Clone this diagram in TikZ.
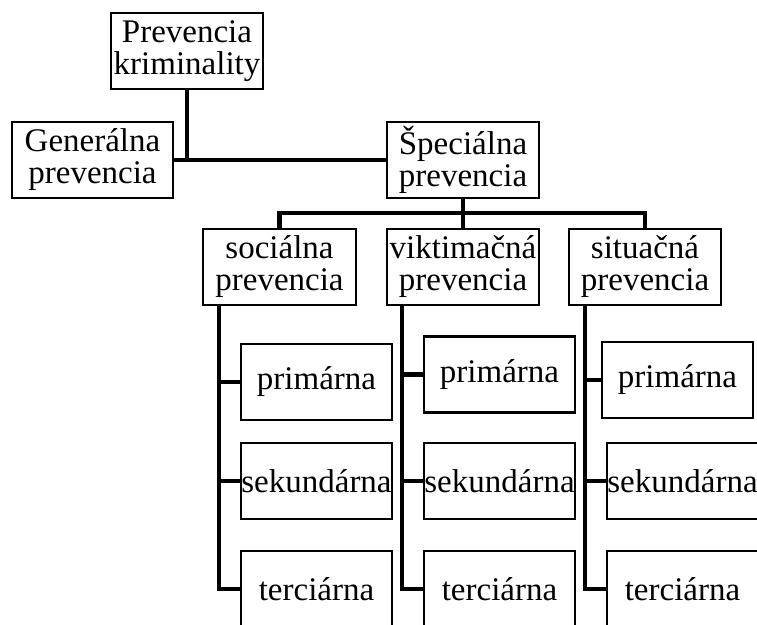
\documentclass[tikz,border=0pt]{standalone}
\usepackage{fontspec}
\setmainfont{Liberation Serif}
\tikzset{
  box/.style={draw,line width=2.4pt,inner sep=0pt,minimum width=152pt,
    minimum height=76pt,align=center,font=\fontsize{33}{32}\selectfont},
  way/.style={line width=4.5pt}
}

\begin{document}
\begin{tikzpicture}[x=1pt,y=-1pt]
    \useasboundingbox (0,0) rectangle (757,624);
    % Boxes
    \node[box] (krim) at (187,51) {Prevencia\\kriminality};
    \node[box,minimum width=161pt] (gen) at (92.5,160) {Generálna\\prevencia};
    \node[box] (spec) at (463,160) {Špeciálna\\prevencia};
    \node[box,minimum width=153pt] (soc) at (279.5,267) {sociálna\\prevencia};
    \node[box] (vikt) at (463,267) {viktimačná\\prevencia};
    \node[box] (sit) at (645,267) {situačná\\prevencia};
    \node[box,minimum width=151pt] (prim1) at (316.5,382) {primárna};
    \node[box,minimum width=151pt] (sek1) at (316.5,481) {sekundárna};
    \node[box,minimum width=151pt] (ter1) at (316.5,589) {terciárna};
    \node[box,minimum width=151pt] (prim2) at (499.5,374.5) {primárna};
    \node[box,minimum width=151pt] (sek2) at (499.5,481) {sekundárna};
    \node[box,minimum width=151pt] (ter2) at (499.5,589) {terciárna};
    \node[box,minimum width=151pt] (prim3) at (677.5,380) {primárna};
    \node[box,minimum width=151pt] (sek3) at (682.5,481) {sekundárna};
    \node[box,minimum width=151pt] (ter3) at (682.5,589) {terciárna};
    % Points
    \coordinate (bus) at (463,213);
    \coordinate (s1) at (219,305);
    \coordinate (s2) at (402,305);
    \coordinate (s3) at (585,305);
    % Ways
    \draw[way] (gen.east) -- (spec.west);
    \draw[way] (krim.south) -- (krim.south |- gen.east);
    \draw[way] (spec.south) -- (bus);
    \draw[way] (soc.north) |- (bus) -| (sit.north);
    \draw[way] (bus) -- (vikt.north);
    \draw[way] (s1) |- (ter1.west);
    \draw[way] (s1 |- prim1.west) -- (prim1.west);
    \draw[way] (s1 |- sek1.west) -- (sek1.west);
    \draw[way] (s2) |- (ter2.west);
    \draw[way] (s2 |- prim2.west) -- (prim2.west);
    \draw[way] (s2 |- sek2.west) -- (sek2.west);
    \draw[way] (s3) |- (ter3.west);
    \draw[way] (s3 |- prim3.west) -- (prim3.west);
    \draw[way] (s3 |- sek3.west) -- (sek3.west);
\end{tikzpicture}
\end{document}
